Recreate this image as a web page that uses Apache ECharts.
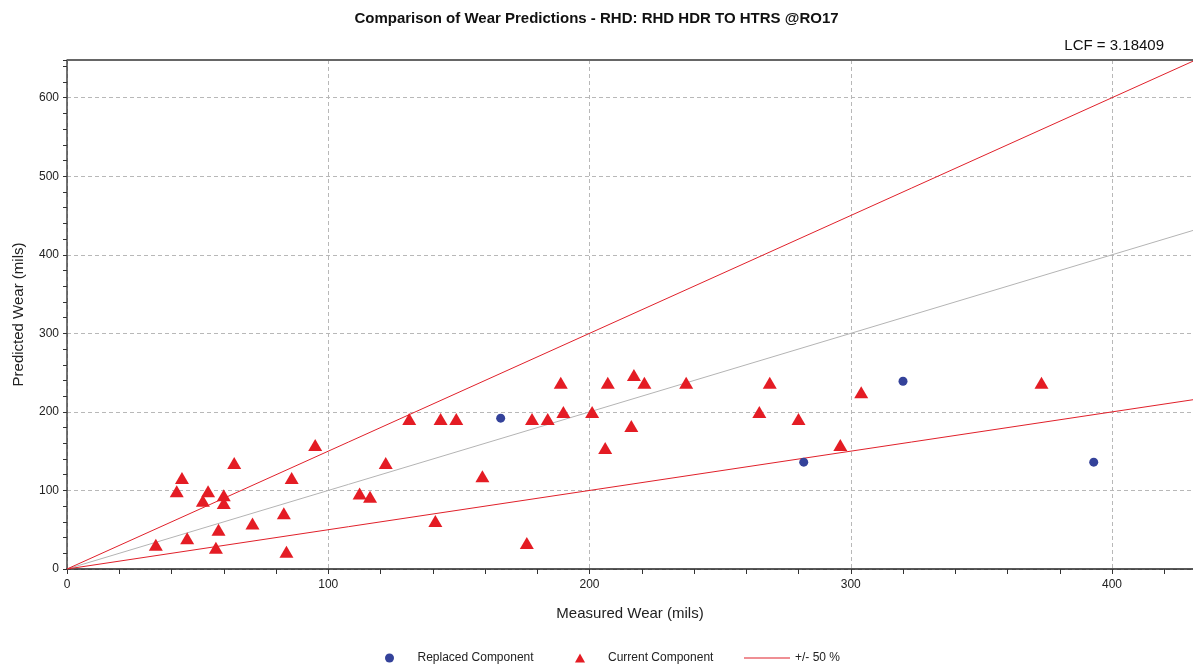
<!DOCTYPE html>
<html>
<head>
<meta charset="utf-8">
<script src="https://cdn.jsdelivr.net/npm/echarts@6/dist/echarts.min.js"></script>
<style>
html,body{margin:0;padding:0;background:#fff;}
#main{width:1193px;height:669px;}
</style>
</head>
<body>
<div id="main"></div>
<script>
// measured / predicted wear (mils)
var replaced = [[166, 192], [282, 136], [320, 239], [393, 136]];
var current = [
    [34, 31], [42, 99], [44, 116], [46, 39], [52, 87], [54, 99], [57, 27], [58, 50],
    [60, 94], [60, 84], [64, 135], [71, 58], [83, 71], [84, 22], [86, 116], [95, 158],
    [112, 96], [116, 92], [122, 135], [131, 191], [141, 61], [143, 191], [149, 191],
    [159, 118], [176, 33], [178, 191], [184, 191], [189, 237], [190, 200], [201, 200],
    [206, 154], [207, 237], [216, 182], [217, 247], [221, 237], [237, 237], [265, 200],
    [269, 237], [280, 191], [296, 158], [304, 225], [373, 237]
];
var upperLine = [[0, 0], [431, 646.5]];
var equalLine = [[0, 0], [431, 431]];
var lowerLine = [[0, 0], [431, 215.5]];
var xMax = 431, yMax = 648;

var myChart = echarts.init(document.getElementById('main'));
var font = 'Liberation Sans, Arial, sans-serif';
var red = '#e0202a', blue = '#34429a', markRed = '#e41c24';

function legendAt(left, name, icon, color){
    return {
        top: 647, left: left,
        itemWidth: 46, itemHeight: 9,
        symbolKeepAspect: true,
        textStyle: {fontFamily: font, fontSize: 12, color: '#222'},
        data: [{name: name, icon: icon, itemStyle: {color: color}}]
    };
}

var option = {
    backgroundColor: '#fff',
    animation: false,
    textStyle: {fontFamily: font},
    title: [
        {
            text: 'Comparison of Wear Predictions - RHD: RHD HDR TO HTRS @RO17',
            left: 'center', top: 6,
            textStyle: {fontFamily: font, fontSize: 15, fontWeight: 'bold', color: '#111'}
        },
        {
            text: 'LCF = 3.18409',
            right: 24, top: 33,
            textStyle: {fontFamily: font, fontSize: 15, fontWeight: 'normal', color: '#111'}
        }
    ],
    legend: [
        legendAt(380, 'Replaced Component', 'circle', blue),
        legendAt(570, 'Current Component', 'path://M5,0 L10,9 L0,9 Z', markRed),
        legendAt(739, '+/- 50 %', 'path://M0,0 L46,0 L46,1.2 L0,1.2 Z', red)
    ],
    grid: {left: 67, right: 0, top: 60, bottom: 100, outerBoundsMode: 'none'},
    xAxis: {
        type: 'value', min: 0, max: xMax, interval: 100,
        name: 'Measured Wear (mils)', nameLocation: 'middle', nameGap: 37,
        nameTextStyle: {fontSize: 15, color: '#222'},
        axisLine: {onZero: false, lineStyle: {color: '#222', width: 1.5}},
        axisTick: {show: true, length: 5, lineStyle: {color: '#333'}},
        minorTick: {show: true, splitNumber: 5, length: 5, lineStyle: {color: '#333'}},
        axisLabel: {fontSize: 12, color: '#222', showMaxLabel: false, margin: 10},
        splitLine: {show: true, lineStyle: {color: '#b8b8b8', type: [4, 3]}}
    },
    yAxis: {
        type: 'value', min: 0, max: yMax, interval: 100,
        name: 'Predicted Wear (mils)', nameLocation: 'middle', nameGap: 41,
        nameTextStyle: {fontSize: 15, color: '#222'},
        axisLine: {show: true, lineStyle: {color: '#444', width: 1.5}},
        axisTick: {show: true, length: 4, lineStyle: {color: '#333'}},
        minorTick: {show: true, splitNumber: 5, length: 4, lineStyle: {color: '#333'}},
        axisLabel: {fontSize: 12, color: '#222', showMaxLabel: false, margin: 8},
        splitLine: {show: true, lineStyle: {color: '#b8b8b8', type: [4, 3]}}
    },
    graphic: [{
        type: 'line', z: 10,
        shape: {x1: 67, y1: 60, x2: 1193, y2: 60},
        style: {stroke: '#666', lineWidth: 2}
    }],
    series: [
        {
            name: 'equal', type: 'line', data: equalLine, symbol: 'none',
            lineStyle: {color: '#b4b4b4', width: 1}, silent: true, z: 1
        },
        {
            name: '+/- 50 %', type: 'line', data: upperLine, symbol: 'none',
            itemStyle: {color: red},
            lineStyle: {color: red, width: 1}, z: 2
        },
        {
            name: '+/- 50 %', type: 'line', data: lowerLine, symbol: 'none',
            itemStyle: {color: red},
            lineStyle: {color: red, width: 1}, z: 2
        },
        {
            name: 'Replaced Component', type: 'scatter', data: replaced,
            symbol: 'circle', symbolSize: 9,
            itemStyle: {color: blue, opacity: 1}, z: 5
        },
        {
            name: 'Current Component', type: 'scatter', data: current,
            symbol: 'triangle', symbolSize: [14, 12],
            itemStyle: {color: markRed, opacity: 1}, z: 5
        }
    ]
};
myChart.setOption(option);
</script>
</body>
</html>
